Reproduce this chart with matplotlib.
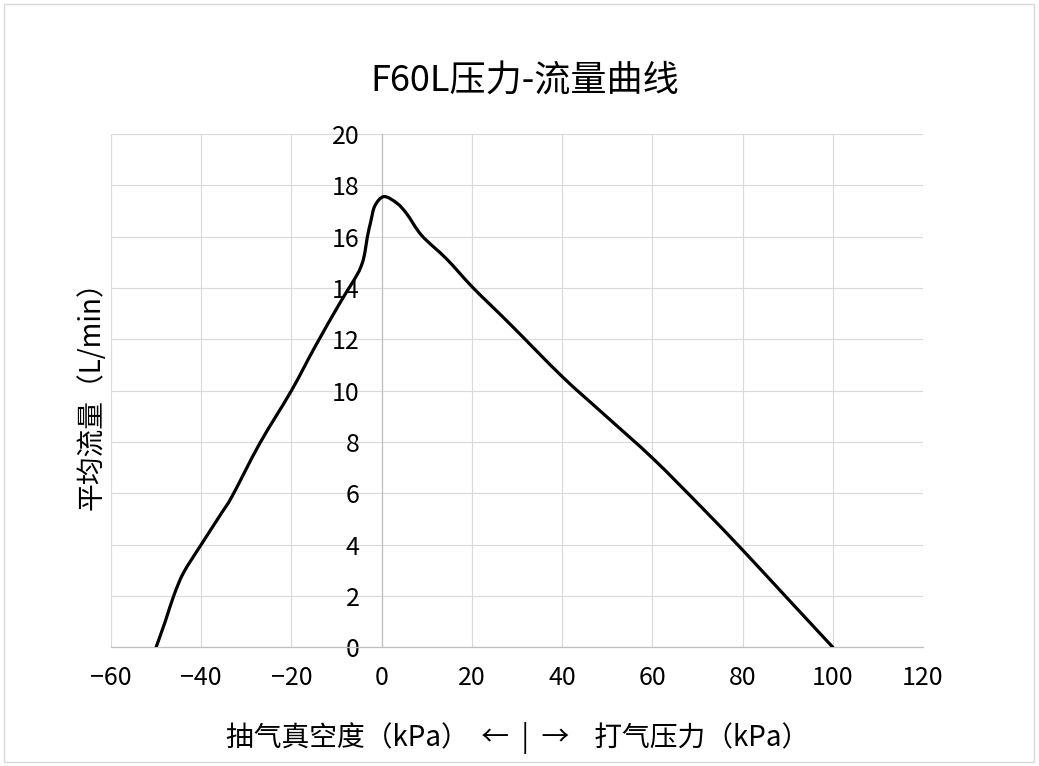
import matplotlib.pyplot as plt
from matplotlib.patches import Rectangle, PathPatch
from matplotlib.path import Path

plt.rcParams["font.family"] = ["Noto Sans CJK SC", "DejaVu Sans"]

# 曲线数据
pressure = [-50, -47.9, -46.1, -43.9, -40, -35.6, -33.1, -27, -20, -14.8,
            -9.3, -5.5, -4.3, -3.7, -3.2, -2.4, -1.5, 0.5, 3.4, 5.6,
            8.9, 14.4, 20.3, 28.3, 40, 49, 60.1, 71.1, 80, 89.6,
            100]
flow = [0, 1.04, 2.0, 2.91, 4.0, 5.2, 5.9, 7.95, 10.0, 11.7,
        13.4, 14.5, 14.97, 15.4, 15.96, 16.6, 17.2, 17.56, 17.3, 16.88,
        16.04, 15.13, 14.0, 12.62, 10.55, 9.12, 7.36, 5.42, 3.79, 1.97,
        0]

x_ticks = [-60, -40, -20, 0, 20, 40, 60, 80, 100, 120]
y_ticks = [0, 2, 4, 6, 8, 10, 12, 14, 16, 18, 20]

title = "F60L压力-流量曲线"
x_label = "抽气真空度（kPa）  ←  |  →    打气压力（kPa）"
y_label = "平均流量（L/min）"

fig = plt.figure(figsize=(10.39, 7.66), dpi=100)
ax = fig.add_axes([0.1068, 0.1550, 0.7816, 0.6701])

# 平滑曲线 (类似 Excel 的平滑线), 用贝塞尔路径绘制
pts = list(zip(pressure, flow))
verts = [pts[0]]
codes = [Path.MOVETO]
for i in range(len(pts) - 1):
    p0 = pts[i - 1] if i > 0 else pts[i]
    p1 = pts[i]
    p2 = pts[i + 1]
    p3 = pts[i + 2] if i + 2 < len(pts) else pts[i + 1]
    c1 = (p1[0] + (p2[0] - p0[0]) / 6, p1[1] + (p2[1] - p0[1]) / 6)
    c2 = (p2[0] - (p3[0] - p1[0]) / 6, p2[1] - (p3[1] - p1[1]) / 6)
    verts += [c1, c2, p2]
    codes += [Path.CURVE4] * 3
curve = PathPatch(Path(verts, codes), facecolor="none", edgecolor="black",
                  lw=2.3, joinstyle="round", capstyle="round", zorder=3)
ax.add_patch(curve)

ax.set_xlim(-60, 120)
ax.set_ylim(0, 20)
ax.set_xticks(x_ticks)
ax.set_yticks(y_ticks)
ax.set_xticklabels([str(v).replace("-", "−") for v in x_ticks])
ax.grid(True, color="#d9d9d9", lw=0.8)
ax.set_axisbelow(True)

for s in ["top", "right"]:
    ax.spines[s].set_visible(False)
ax.spines["left"].set_position(("data", 0))
ax.spines["left"].set_color("#bfbfbf")
ax.spines["bottom"].set_color("#bfbfbf")
ax.spines["left"].set_linewidth(0.9)
ax.spines["bottom"].set_linewidth(0.9)
ax.tick_params(axis="both", length=0, labelsize=18)
ax.tick_params(axis="y", pad=16)
ax.tick_params(axis="x", pad=13)

fig.text(0.505, 0.893, title, fontsize=26, ha="center", va="center")
fig.text(0.4986, 0.0366, x_label, fontsize=20, ha="center", va="center")
fig.text(0.0885, 0.492, y_label, fontsize=20, ha="center", va="center",
         rotation=90)

# 图表外框
fig.patches.append(Rectangle((0.004, 0.005), 0.991, 0.99, transform=fig.transFigure,
                             fill=False, edgecolor="#d9d9d9", lw=1))

fig.savefig("out.png", dpi=100)
